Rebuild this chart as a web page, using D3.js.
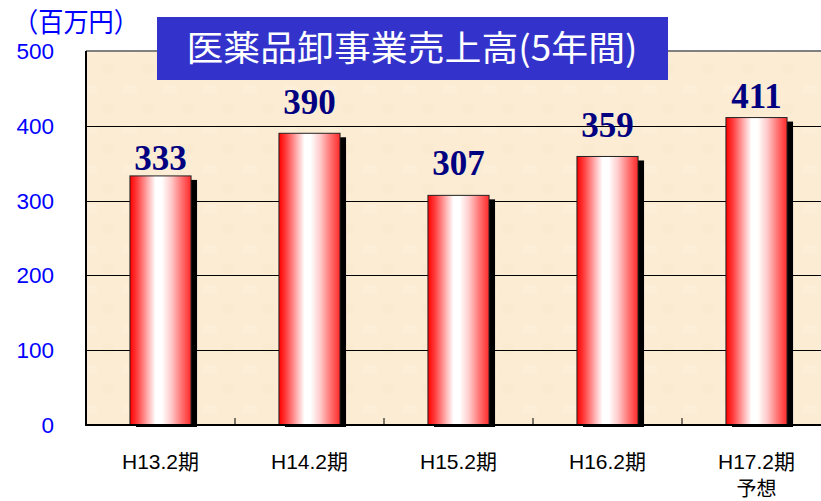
<!DOCTYPE html>
<html><head><meta charset="utf-8">
<script src="https://cdn.jsdelivr.net/npm/d3@7"></script>
<style>body{margin:0;background:#fff}svg{display:block}</style>
</head><body>
<script>
const categories = ["H13.2期","H14.2期","H15.2期","H16.2期","H17.2期"];
const subLabels = ["","","","","予想"];
const values = [333, 390, 307, 359, 411];
const yTicks = [0,100,200,300,400,500];
const title = "医薬品卸事業売上高(5年間)";
const unitLabel = "（百万円）";

const W = 821, H = 501;
const svg = d3.select("body").append("svg").attr("width", W).attr("height", H);
const plot = {left: 86, right: 831, top: 51, bottom: 425};

const x = d3.scaleBand().domain(categories).range([plot.left, plot.right]).paddingInner(0).paddingOuter(0);
const y = d3.scaleLinear().domain([0, 500]).range([plot.bottom, plot.top]);

const defs = svg.append("defs");
const g = defs.append("linearGradient").attr("id","barGrad").attr("x1","0").attr("x2","1").attr("y1","0").attr("y2","0");
[[0,"#ff0000"],[0.12,"#ff4040"],[0.28,"#ffa8a8"],[0.42,"#ffffff"],[0.52,"#ffffff"],[0.68,"#ffc8c8"],[0.85,"#ff7070"],[1,"#ff2a2a"]]
  .forEach(([o,c]) => g.append("stop").attr("offset", o).attr("stop-color", c));

const pat = defs.append("pattern").attr("id","tex").attr("width",40).attr("height",40).attr("patternUnits","userSpaceOnUse");
pat.append("rect").attr("width",40).attr("height",40).attr("fill","#fbecd3");
pat.append("rect").attr("x",3).attr("y",5).attr("width",14).attr("height",9).attr("fill","#fcf0dd").attr("opacity",0.4);
pat.append("rect").attr("x",22).attr("y",24).attr("width",12).attr("height",10).attr("fill","#f8e6ca").attr("opacity",0.4);

svg.append("rect").attr("x", plot.left).attr("y", plot.top)
  .attr("width", plot.right - plot.left).attr("height", plot.bottom - plot.top)
  .attr("fill", "url(#tex)");

svg.append("line").attr("x1", plot.left).attr("x2", plot.right).attr("y1", plot.top).attr("y2", plot.top)
  .attr("stroke", "#808080").attr("stroke-width", 2);

svg.append("g").selectAll("line").data(yTicks.filter(d => d > 0 && d < 500)).join("line")
  .attr("x1", plot.left).attr("x2", plot.right)
  .attr("y1", d => Math.round(y(d)) + 0.5).attr("y2", d => Math.round(y(d)) + 0.5)
  .attr("stroke", "#000").attr("stroke-width", 1.2);

svg.append("g").selectAll("line").data(categories.slice(1)).join("line")
  .attr("x1", d => x(d)).attr("x2", d => x(d))
  .attr("y1", plot.bottom).attr("y2", plot.bottom - 7)
  .attr("stroke", "#000").attr("stroke-width", 1);

const bw = x.bandwidth() * 0.41;
const bars = svg.append("g");
bars.selectAll("rect.sh").data(values).join("rect").attr("class","sh")
  .attr("x", (d,i) => x(categories[i]) + x.bandwidth()/2 - bw/2 + 6)
  .attr("y", d => y(d) + 4)
  .attr("width", bw).attr("height", d => plot.bottom - y(d) - 2)
  .attr("fill", "#000");
bars.selectAll("rect.bar").data(values).join("rect").attr("class","bar")
  .attr("x", (d,i) => x(categories[i]) + x.bandwidth()/2 - bw/2)
  .attr("y", d => y(d))
  .attr("width", bw).attr("height", d => plot.bottom - y(d))
  .attr("fill", "url(#barGrad)").attr("stroke", "#222").attr("stroke-width", 1);

// value labels (hand-placed gaps above each bar, as in the original)
const labelGap = [6, 19, 20, 19, 10];
svg.append("g").selectAll("text").data(values).join("text")
  .attr("x", (d,i) => x(categories[i]) + x.bandwidth()/2)
  .attr("y", (d,i) => y(d) - labelGap[i])
  .attr("text-anchor", "middle")
  .attr("font-family", "'Liberation Serif', 'Times New Roman', serif")
  .attr("font-weight", "bold").attr("font-size", 35).attr("fill", "#000080")
  .text(d => d);

svg.append("line").attr("x1", plot.left).attr("x2", plot.left).attr("y1", plot.top).attr("y2", plot.bottom + 1)
  .attr("stroke", "#000").attr("stroke-width", 2);
svg.append("line").attr("x1", plot.left - 1).attr("x2", plot.right).attr("y1", plot.bottom).attr("y2", plot.bottom)
  .attr("stroke", "#000").attr("stroke-width", 2);

svg.append("g").selectAll("text").data(yTicks).join("text")
  .attr("x", 54).attr("y", d => y(d) + 8)
  .attr("text-anchor", "end")
  .attr("font-family", "'Liberation Sans', Arial, sans-serif")
  .attr("font-size", 22.5).attr("fill", "#0000ff")
  .text(d => d);

svg.append("text").attr("x", 13).attr("y", 32)
  .attr("font-family", "'Noto Sans CJK JP', sans-serif")
  .attr("font-size", 27).attr("fill", "#0000ff")
  .attr("textLength", 126).attr("lengthAdjust", "spacingAndGlyphs")
  .text(unitLabel);

const xl = svg.append("g");
xl.selectAll("text.c").data(categories).join("text").attr("class","c")
  .attr("x", d => x(d) + x.bandwidth()/2).attr("y", 469)
  .attr("text-anchor", "middle")
  .attr("font-family", "'Liberation Sans', 'Noto Sans CJK JP', sans-serif")
  .attr("font-size", 21).attr("fill", "#000")
  .text(d => d);
xl.selectAll("text.s").data(subLabels).join("text").attr("class","s")
  .attr("x", (d,i) => x(categories[i]) + x.bandwidth()/2).attr("y", 496)
  .attr("text-anchor", "middle")
  .attr("font-family", "'Noto Sans CJK JP', sans-serif")
  .attr("font-size", 20).attr("fill", "#000")
  .text(d => d);

svg.append("rect").attr("x", 157).attr("y", 17).attr("width", 511).attr("height", 63).attr("fill", "#3333cc");
svg.append("text").attr("x", 412).attr("y", 61).attr("text-anchor", "middle")
  .attr("font-family", "'Noto Sans CJK JP', sans-serif")
  .attr("font-size", 35).attr("fill", "#fff")
  .attr("textLength", 451).attr("lengthAdjust", "spacingAndGlyphs")
  .text(title);
</script>
</body></html>
